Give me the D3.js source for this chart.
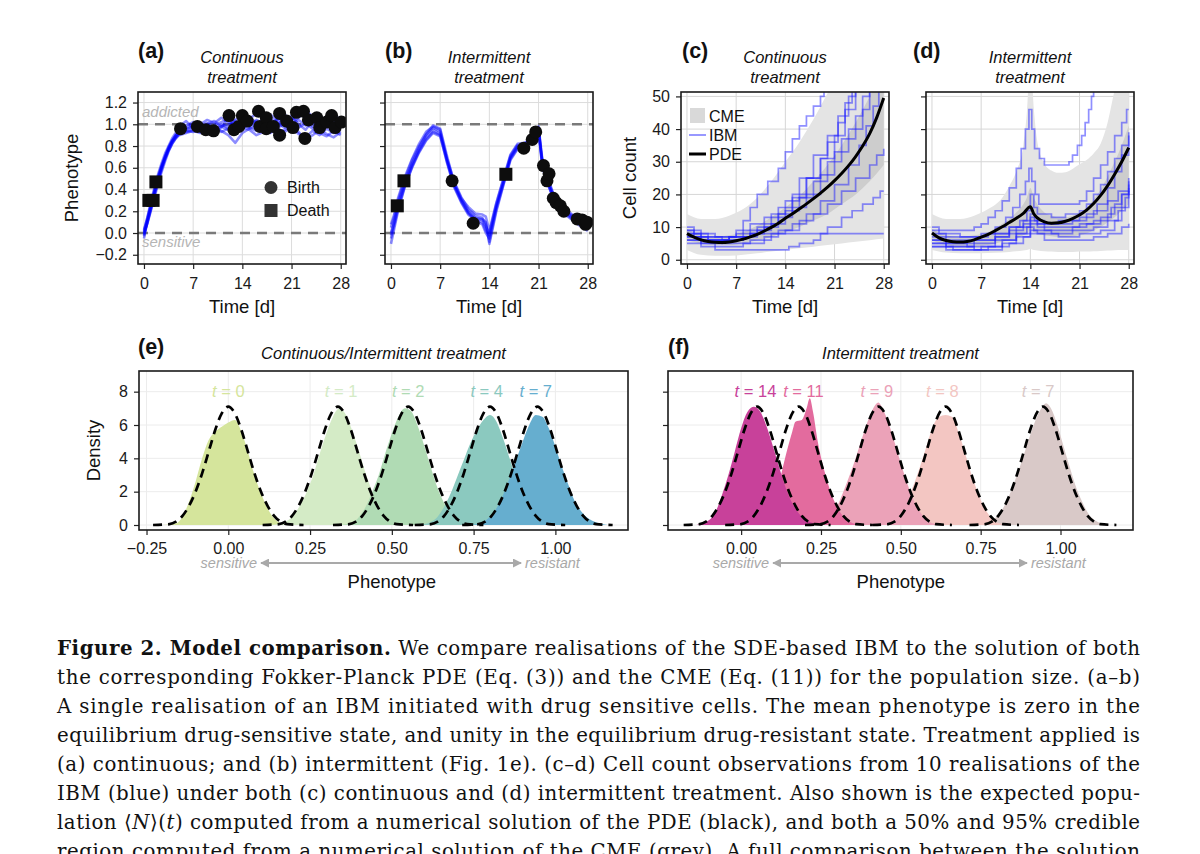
<!DOCTYPE html>
<html>
<head>
<meta charset="utf-8">
<script src="https://cdn.jsdelivr.net/npm/d3@7"></script>
<style>
  body { margin: 0; background: #fff; }
  svg text { font-family: "Liberation Sans", Arial, Helvetica, sans-serif; }
</style>
</head>
<body>
<svg id="figure" width="1200" height="854"></svg>
<script>
// ---------- tick values ----------
const timeTicks = [0, 7, 14, 21, 28];
const phenoTicks = [-0.2, 0, 0.2, 0.4, 0.6, 0.8, 1.0, 1.2];
const countTicks = [0, 10, 20, 30, 40, 50];
const densityTicks = [0, 2, 4, 6, 8];
const phenoTicksE = [-0.25, 0, 0.25, 0.5, 0.75, 1];
const phenoTicksF = [0, 0.25, 0.5, 0.75, 1];

// ---------- (a) continuous, single IBM realisation ----------
const timesA = [0, 0.5, 1, 1.5, 2, 2.5, 3, 3.5, 4, 4.5, 5, 6, 7, 8, 9, 10, 11, 12, 13, 14, 15, 16, 17, 18, 19, 20, 21, 22, 23, 24, 25, 26, 27, 28];
const trajA = [
  [-0.05, 0.11, 0.24, 0.37, 0.49, 0.60, 0.69, 0.77, 0.84, 0.89, 0.92, 0.95, 0.97, 0.93, 0.96, 0.99, 1.02, 1.05, 0.99, 1.03, 0.98, 1.04, 1.01, 0.97, 1.06, 1.02, 1.08, 1.00, 0.95, 1.03, 1.05, 0.99, 1.02, 1.01],
  [0.02, 0.15, 0.29, 0.42, 0.54, 0.64, 0.73, 0.80, 0.87, 0.92, 0.98, 1.03, 0.96, 0.98, 0.94, 0.92, 0.97, 1.06, 1.03, 0.98, 1.07, 1.01, 0.95, 1.02, 0.98, 1.09, 1.04, 1.10, 1.06, 0.98, 1.02, 1.07, 0.97, 1.04],
  [0.00, 0.09, 0.21, 0.33, 0.45, 0.56, 0.66, 0.75, 0.82, 0.87, 0.91, 0.93, 0.95, 0.99, 1.01, 0.97, 0.94, 0.90, 0.83, 0.92, 0.96, 0.99, 0.94, 0.92, 0.96, 0.93, 0.97, 0.91, 0.88, 0.94, 0.90, 0.96, 0.92, 0.95],
  [-0.03, 0.13, 0.26, 0.40, 0.52, 0.62, 0.71, 0.79, 0.85, 0.90, 0.93, 0.97, 1.00, 0.96, 0.93, 0.95, 1.00, 0.97, 1.04, 1.08, 1.02, 0.97, 1.05, 1.09, 1.03, 0.99, 1.04, 1.12, 1.08, 1.02, 0.97, 1.06, 1.10, 1.03],
  [0.01, 0.12, 0.25, 0.38, 0.50, 0.61, 0.70, 0.78, 0.84, 0.88, 0.91, 0.94, 0.93, 0.95, 0.97, 0.94, 0.98, 0.95, 0.92, 0.97, 0.95, 0.90, 0.93, 0.96, 0.91, 0.95, 0.99, 0.93, 0.86, 0.90, 0.95, 0.91, 0.88, 0.93],
  [-0.02, 0.10, 0.23, 0.36, 0.48, 0.59, 0.68, 0.76, 0.83, 0.88, 0.94, 0.99, 1.02, 1.00, 1.04, 1.01, 1.06, 1.02, 0.98, 1.01, 1.05, 1.10, 1.06, 1.00, 1.04, 1.08, 1.02, 1.06, 1.13, 1.07, 1.03, 1.00, 1.05, 1.00],
  [0.03, 0.14, 0.27, 0.39, 0.51, 0.61, 0.70, 0.78, 0.85, 0.90, 0.93, 0.96, 0.98, 0.97, 1.00, 1.03, 0.98, 1.00, 1.02, 0.96, 1.00, 1.03, 0.99, 1.05, 1.01, 0.97, 1.00, 1.04, 0.99, 1.06, 1.01, 1.03, 0.98, 1.02],
  [-0.01, 0.10, 0.22, 0.35, 0.47, 0.58, 0.68, 0.76, 0.82, 0.87, 0.90, 0.92, 0.94, 0.92, 0.95, 0.97, 0.93, 0.96, 0.99, 1.02, 0.97, 0.94, 0.98, 0.93, 0.97, 1.00, 0.94, 0.97, 1.01, 0.96, 0.92, 0.89, 0.94, 0.90]
];
const birthsA = [[5.2, 0.96], [7.6, 0.98], [8.8, 0.95], [9.9, 0.94], [12.1, 1.08], [12.8, 0.95], [13.5, 0.98], [14.0, 1.08], [14.7, 1.03],
  [16.3, 1.12], [16.5, 0.98], [17.4, 1.06], [17.4, 0.96], [18.4, 0.98], [19.3, 0.90], [19.3, 1.10], [20.3, 1.03], [21.2, 0.97],
  [21.7, 1.11], [22.7, 1.12], [22.9, 0.87], [23.4, 1.04], [24.6, 1.06], [25.0, 0.97], [26.0, 1.02], [26.7, 1.08], [27.2, 0.97], [28.1, 1.02]];
const deathsA = [[0.7, 0.30], [1.3, 0.30], [1.7, 0.47]];

// ---------- (b) intermittent, single IBM realisation ----------
const timesB = [0, 0.5, 1, 2, 3, 4, 5, 6, 7, 8, 9, 10, 11, 12, 13, 13.5, 14, 15, 16, 17, 18, 19, 20, 20.5, 21, 21.5, 22, 23, 24, 25, 26, 27, 28];
const trajB = [
  [-0.02, 0.12, 0.27, 0.47, 0.64, 0.78, 0.90, 0.97, 0.93, 0.66, 0.44, 0.30, 0.19, 0.12, 0.10, 0.02, -0.02, 0.25, 0.47, 0.70, 0.80, 0.80, 0.85, 0.90, 0.96, 0.68, 0.55, 0.36, 0.25, 0.19, 0.14, 0.10, 0.06],
  [-0.10, 0.05, 0.20, 0.43, 0.61, 0.76, 0.88, 0.95, 0.91, 0.68, 0.47, 0.33, 0.22, 0.16, 0.14, 0.08, -0.08, 0.22, 0.45, 0.68, 0.78, 0.82, 0.87, 0.92, 0.94, 0.66, 0.52, 0.33, 0.23, 0.17, 0.12, 0.08, 0.03],
  [0.05, 0.16, 0.30, 0.50, 0.67, 0.80, 0.91, 0.99, 0.96, 0.70, 0.46, 0.32, 0.24, 0.18, 0.17, 0.15, 0.02, 0.28, 0.50, 0.72, 0.82, 0.83, 0.86, 0.91, 0.98, 0.70, 0.57, 0.38, 0.27, 0.21, 0.16, 0.12, 0.08],
  [0.00, 0.10, 0.24, 0.45, 0.62, 0.75, 0.86, 0.93, 0.90, 0.64, 0.42, 0.28, 0.17, 0.11, 0.08, 0.00, -0.05, 0.24, 0.46, 0.69, 0.79, 0.79, 0.84, 0.89, 0.95, 0.64, 0.50, 0.34, 0.24, 0.18, 0.13, 0.09, 0.04],
  [0.08, 0.18, 0.32, 0.52, 0.68, 0.82, 0.93, 0.98, 0.95, 0.67, 0.45, 0.31, 0.20, 0.14, 0.12, 0.06, 0.00, 0.27, 0.49, 0.71, 0.81, 0.81, 0.86, 0.92, 0.97, 0.67, 0.54, 0.37, 0.26, 0.20, 0.15, 0.11, 0.07],
  [-0.05, 0.08, 0.22, 0.44, 0.60, 0.74, 0.85, 0.92, 0.89, 0.65, 0.43, 0.29, 0.18, 0.13, 0.13, 0.10, -0.10, 0.20, 0.44, 0.67, 0.77, 0.79, 0.84, 0.88, 0.93, 0.63, 0.51, 0.35, 0.22, 0.16, 0.11, 0.06, 0.02]
];
const birthsB = [[8.7, 0.48], [11.7, 0.09], [18.9, 0.78], [20.1, 0.86], [20.6, 0.93], [21.7, 0.62], [22.2, 0.48], [22.5, 0.545],
  [23.1, 0.32], [23.5, 0.28], [24.1, 0.25], [24.6, 0.20], [26.5, 0.13], [27.2, 0.12], [27.7, 0.08], [27.9, 0.10]];
const deathsB = [[0.9, 0.25], [1.85, 0.48], [16.35, 0.54]];

// ---------- (c) continuous, cell counts ----------
const pdeTimesC = [0, 1, 2, 3, 4, 5, 6, 7, 8, 9, 10, 11, 12, 13, 14, 15, 16, 17, 18, 19, 20, 21, 22, 23, 24, 25, 26, 27, 28];
const pdeC = [8.0, 6.9, 6.1, 5.6, 5.35, 5.3, 5.45, 5.8, 6.3, 7.0, 7.8, 8.8, 9.9, 11.2, 12.7, 14.1, 15.6, 17.1, 18.7, 20.4, 22.2, 24.2, 26.4, 28.8, 31.6, 34.8, 38.6, 43.5, 49.5];
const cmeTimesC = [0, 2, 4, 6, 8, 10, 12, 14, 16, 18, 20, 22, 24, 26, 28];
const cmeLo95C = [3, 1.5, 1.2, 1.2, 1.5, 2, 2.5, 3, 3.5, 4, 4.5, 5, 5.5, 6, 6.5];
const cmeHi95C = [14, 12.5, 12.5, 13.5, 15.5, 19, 24, 30, 36, 43, 51, 59, 68, 78, 90];
const cmeLo50C = [6, 5, 4.5, 4.5, 5, 6, 7, 8.5, 10, 12, 14, 17, 20, 24, 29];
const cmeHi50C = [9.5, 7.5, 7, 7.5, 8.5, 10.5, 13, 16, 19.5, 24, 29, 35, 42, 50, 59];
const ibmC = [
  [[0, 8], [1, 7], [3, 6], [6, 7], [9, 8], [28, 8]],
  [[0, 5], [2, 4], [4, 3], [14.5, 4], [16, 5], [18, 6], [19, 8], [20, 10], [22, 13], [23.5, 15], [25, 17], [26.5, 19], [27.5, 21], [28, 21]],
  [[0, 7], [2, 6], [5, 5], [9, 6], [12, 8], [14, 9], [16, 12], [18, 14], [20, 17], [22, 21], [24, 25], [26, 29], [27, 32], [28, 34]],
  [[0, 10], [1, 8], [3, 7], [7, 8], [8, 12], [9, 16], [10, 20], [11.5, 24], [13, 28], [14, 33], [15, 37], [16, 41], [17, 44], [18, 47], [19, 50], [19.5, 53]],
  [[0, 9], [2, 7], [5, 6], [8, 8], [10, 10], [12, 14], [14, 18], [16, 25], [18, 32], [20, 38], [21.5, 44], [23, 50], [24, 53]],
  [[0, 7], [3, 6], [6, 7], [9, 9], [11, 11], [13, 14], [15, 19], [17, 25], [19, 31], [21, 38], [22.5, 46], [24, 52]],
  [[0, 6], [2, 5], [5, 6], [8, 7], [10, 9], [12, 11], [14, 15], [16, 19], [18, 24], [20, 30], [22, 37], [24, 44], [25, 50], [26, 53]],
  [[0, 8], [2, 6], [6, 7], [9, 8], [11, 10], [13, 13], [15, 16], [17, 20], [19, 26], [21, 33], [23, 40], [25, 46], [26, 52]],
  [[0, 6], [2, 5], [4, 4], [8, 5], [11, 7], [13, 9], [15, 11], [17, 14], [19, 18], [21, 23], [23, 29], [24.5, 35], [25.5, 41], [26.5, 47], [27.3, 53]],
  [[0, 9], [1, 8], [4, 7], [7, 9], [9, 11], [11, 13], [13, 16], [15, 20], [17, 25], [19, 31], [20, 36], [21.5, 42], [22.5, 48], [23.5, 53]]
];

// ---------- (d) intermittent, cell counts ----------
const pdeTimesD = [0, 1, 2, 3, 4, 5, 6, 7, 8, 9, 10, 11, 12, 13, 14, 14.5, 15, 16, 17, 18, 19, 20, 21, 22, 23, 24, 25, 26, 27, 28];
const pdeD = [8.2, 6.7, 5.9, 5.5, 5.4, 5.6, 6.1, 6.9, 7.8, 8.9, 10.1, 11.4, 12.7, 14.2, 16.2, 14.0, 12.8, 11.6, 11.2, 11.3, 11.8, 12.6, 13.7, 15.2, 17.2, 19.7, 22.7, 26.2, 30.0, 34.3];
const cmeTimesD = [0, 2, 4, 6, 8, 10, 11, 12, 13, 13.5, 14, 14.5, 15, 16, 17, 18, 19, 20, 21, 22, 23, 24, 25, 26, 27, 28];
const cmeLo95D = [3, 2.2, 2, 2, 2.1, 2.2, 2.4, 2.6, 2.8, 3, 3.3, 3, 2.8, 2.6, 2.5, 2.4, 2.4, 2.4, 2.5, 2.5, 2.6, 2.7, 2.8, 2.9, 3, 3];
const cmeHi95D = [14, 12.5, 12.5, 13.5, 15.5, 19, 22.5, 27, 35, 45, 62, 46, 36, 29.5, 27.3, 26.6, 26.8, 27.8, 29.2, 30.5, 32.5, 35.5, 42, 52, 60, 68];
const cmeLo50D = [6, 4.5, 4, 4, 4.5, 5.5, 6, 6.5, 7.5, 8, 9, 8.5, 8, 7.5, 7.2, 7, 7, 7.2, 7.5, 8, 9, 10, 11.5, 13, 15, 17];
const cmeHi50D = [9.5, 7.5, 7, 7.5, 8.5, 11, 12.5, 14.5, 17, 19, 22, 19, 17, 14.5, 13.5, 13, 13, 13.5, 14.5, 16, 18.5, 21.5, 25.5, 30, 35, 41];
const ibmD = [
  [[0, 9], [3, 9], [6, 10], [7, 11], [8, 13], [9, 15], [10, 18], [11, 22], [12, 28], [12.7, 34], [13.3, 40], [13.8, 46], [14.2, 40], [14.6, 34], [15.3, 31], [16, 29], [19.5, 30], [20, 32], [20.7, 35], [21.3, 38], [21.8, 42], [22.3, 46], [22.7, 50], [23, 53]],
  [[0, 8], [2, 7], [4, 7], [7, 8], [9, 10], [10.5, 13], [11.5, 16], [12.5, 20], [13.3, 24], [13.8, 28], [14.2, 24], [14.7, 20], [15.2, 17], [21, 18], [22, 21], [23, 25], [24, 29], [25, 33], [26, 38], [27, 42], [27.7, 46], [28, 46]],
  [[0, 6], [2, 5], [6, 6], [9, 7], [11, 10], [12.5, 12], [13.5, 15], [14, 20], [14.5, 16], [15, 14], [17, 13], [19, 14], [21, 15], [22, 17], [23, 20], [24, 23], [25, 27], [26, 31], [27, 35], [28, 39]],
  [[0, 5], [2, 4], [6, 5], [9, 7], [11, 9], [13, 11], [14, 14], [14.6, 12], [16, 11], [20, 12], [22, 14], [23.5, 17], [25, 22], [26, 27], [27, 32], [28, 38]],
  [[0, 4], [3, 3], [8, 4], [10, 6], [12, 8], [14, 12], [15, 10], [18, 10], [21, 11], [23, 12], [25, 14], [26, 17], [27, 20], [28, 24]],
  [[0, 6], [2, 5], [5, 4], [9, 6], [12, 8], [13.5, 10], [14.5, 9], [17, 8], [20, 9], [23, 10], [25, 12], [26.5, 15], [27.5, 19], [28, 22]],
  [[0, 5], [2, 4], [6, 3], [10, 5], [12, 7], [14, 9], [15, 8], [18, 7], [21, 8], [24, 9], [26, 12], [27, 16], [28, 21]],
  [[0, 10], [1, 8], [4, 7], [8, 8], [11, 10], [13, 12], [14, 13], [15, 11], [18, 12], [21, 13], [23, 15], [25, 18], [26.5, 21], [28, 25]],
  [[0, 4], [2, 3], [7, 4], [11, 5], [13, 7], [14, 8], [16, 6], [20, 6], [23, 7], [25, 8], [27, 10], [28, 11]],
  [[0, 7], [2, 6], [6, 6], [9, 8], [12, 10], [14, 11], [16, 9], [20, 10], [22, 11], [24, 13], [25.5, 16], [27, 20], [28, 23]]
];

// ---------- (e) / (f) phenotype densities ----------
const labelsE = ['0', '1', '2', '4', '7'];
const peaksE = [0, 0.345, 0.55, 0.79, 0.94];
const coloursE = ['#d5e59c', '#d4ebc6', '#b0dbb4', '#8bc9bf', '#66aecf'];
const ibmDensE = [
  [[-0.2, 0], [-0.16, 0.1], [-0.14, 0.5], [-0.12, 1.4], [-0.1, 2.6], [-0.08, 4.0], [-0.06, 5.1], [-0.04, 5.6], [-0.02, 5.9], [0, 6.15], [0.02, 6.3], [0.04, 5.6], [0.06, 4.4], [0.08, 3.0], [0.1, 1.9], [0.12, 1.0], [0.14, 0.4], [0.16, 0.1], [0.2, 0]],
  [[0.12, 0], [0.16, 0.1], [0.2, 0.6], [0.22, 1.2], [0.24, 2.0], [0.26, 3.0], [0.28, 4.3], [0.3, 5.5], [0.32, 6.5], [0.34, 7.0], [0.36, 6.6], [0.38, 5.6], [0.4, 4.4], [0.42, 3.1], [0.44, 2.0], [0.46, 1.1], [0.48, 0.5], [0.5, 0.15], [0.54, 0]],
  [[0.34, 0], [0.38, 0.15], [0.4, 0.5], [0.42, 1.1], [0.44, 2.0], [0.46, 3.0], [0.48, 4.3], [0.5, 5.5], [0.52, 6.5], [0.54, 7.0], [0.56, 6.8], [0.58, 5.9], [0.6, 4.7], [0.62, 3.4], [0.64, 2.2], [0.66, 1.3], [0.68, 0.6], [0.7, 0.2], [0.74, 0]],
  [[0.58, 0], [0.62, 0.2], [0.64, 0.5], [0.66, 1.1], [0.68, 1.9], [0.7, 2.9], [0.72, 3.9], [0.74, 4.9], [0.76, 5.7], [0.78, 6.3], [0.8, 6.6], [0.82, 6.2], [0.84, 5.2], [0.86, 4.0], [0.88, 2.8], [0.9, 1.8], [0.92, 1.0], [0.94, 0.4], [0.98, 0]],
  [[0.74, 0], [0.78, 0.2], [0.8, 0.5], [0.82, 1.0], [0.84, 1.8], [0.86, 2.8], [0.88, 3.9], [0.9, 5.0], [0.92, 6.0], [0.94, 6.6], [0.96, 6.5], [0.98, 5.8], [1.0, 4.7], [1.02, 3.5], [1.04, 2.4], [1.06, 1.4], [1.08, 0.8], [1.1, 0.4], [1.12, 0.2], [1.16, 0]]
];
// PDE densities: same profile
const pdeDensity = [0, 0.05, 0.2, 0.55, 1.15, 2.0, 3.1, 4.4, 5.7, 6.7, 7.1, 6.7, 5.7, 4.4, 3.1, 2.0, 1.15, 0.55, 0.2, 0.05, 0];
const pdePhenoE = [
  [-0.23, -0.18, -0.16, -0.14, -0.12, -0.10, -0.08, -0.06, -0.04, -0.02, 0.00, 0.02, 0.04, 0.06, 0.08, 0.10, 0.12, 0.14, 0.16, 0.18, 0.23],
  [0.105, 0.155, 0.175, 0.195, 0.215, 0.235, 0.255, 0.275, 0.295, 0.315, 0.335, 0.355, 0.375, 0.395, 0.415, 0.435, 0.455, 0.475, 0.495, 0.515, 0.565],
  [0.32, 0.37, 0.39, 0.41, 0.43, 0.45, 0.47, 0.49, 0.51, 0.53, 0.55, 0.57, 0.59, 0.61, 0.63, 0.65, 0.67, 0.69, 0.71, 0.73, 0.78],
  [0.57, 0.62, 0.64, 0.66, 0.68, 0.70, 0.72, 0.74, 0.76, 0.78, 0.80, 0.82, 0.84, 0.86, 0.88, 0.90, 0.92, 0.94, 0.96, 0.98, 1.03],
  [0.715, 0.765, 0.785, 0.805, 0.825, 0.845, 0.865, 0.885, 0.905, 0.925, 0.945, 0.965, 0.985, 1.005, 1.025, 1.045, 1.065, 1.085, 1.105, 1.125, 1.175]
];

const labelsF = ['14', '11', '9', '8', '7'];
const peaksF = [0.045, 0.195, 0.425, 0.63, 0.93];
const coloursF = ['#c8419a', '#e36b9e', '#eba2b8', '#f3c6c2', '#d9c9c8'];
const ibmDensF = [
  [[-0.14, 0], [-0.1, 0.3], [-0.08, 0.8], [-0.06, 1.8], [-0.04, 3.0], [-0.02, 4.4], [0, 5.8], [0.02, 6.8], [0.04, 7.1], [0.06, 6.8], [0.08, 5.9], [0.1, 4.7], [0.12, 3.4], [0.14, 2.2], [0.16, 1.3], [0.18, 0.7], [0.2, 0.35], [0.22, 0.15], [0.26, 0]],
  [[0.04, 0], [0.08, 0.4], [0.1, 1.2], [0.12, 2.6], [0.14, 4.2], [0.16, 5.6], [0.17, 6.2], [0.19, 6.3], [0.205, 7.0], [0.215, 7.6], [0.225, 6.8], [0.24, 5.0], [0.26, 3.3], [0.28, 2.0], [0.3, 1.1], [0.32, 0.5], [0.34, 0.2], [0.38, 0]],
  [[0.22, 0], [0.26, 0.2], [0.28, 0.5], [0.3, 1.1], [0.32, 2.0], [0.34, 3.0], [0.36, 4.1], [0.38, 5.3], [0.4, 6.4], [0.42, 7.2], [0.43, 7.35], [0.44, 7.1], [0.46, 6.2], [0.48, 5.0], [0.5, 3.7], [0.52, 2.5], [0.54, 1.5], [0.56, 0.8], [0.58, 0.35], [0.6, 0.1], [0.64, 0]],
  [[0.44, 0], [0.48, 0.3], [0.5, 0.8], [0.52, 1.5], [0.54, 2.4], [0.56, 3.5], [0.58, 4.7], [0.6, 5.9], [0.62, 6.5], [0.64, 6.6], [0.66, 6.5], [0.68, 5.6], [0.7, 4.4], [0.72, 3.1], [0.74, 2.0], [0.76, 1.1], [0.78, 0.5], [0.8, 0.15], [0.84, 0]],
  [[0.74, 0], [0.78, 0.2], [0.8, 0.5], [0.82, 1.0], [0.84, 1.8], [0.86, 2.8], [0.88, 3.9], [0.9, 5.1], [0.92, 6.2], [0.94, 7.0], [0.955, 7.3], [0.97, 7.0], [0.99, 6.0], [1.01, 4.7], [1.03, 3.4], [1.05, 2.2], [1.07, 1.3], [1.09, 0.6], [1.11, 0.25], [1.15, 0]]
];
const pdePhenoF = [
  [-0.18, -0.13, -0.11, -0.09, -0.07, -0.05, -0.03, -0.01, 0.01, 0.03, 0.05, 0.07, 0.09, 0.11, 0.13, 0.15, 0.17, 0.19, 0.21, 0.23, 0.28],
  [-0.05, 0.00, 0.02, 0.04, 0.06, 0.08, 0.10, 0.12, 0.14, 0.16, 0.18, 0.20, 0.22, 0.24, 0.26, 0.28, 0.30, 0.32, 0.34, 0.36, 0.41],
  [0.20, 0.25, 0.27, 0.29, 0.31, 0.33, 0.35, 0.37, 0.39, 0.41, 0.43, 0.45, 0.47, 0.49, 0.51, 0.53, 0.55, 0.57, 0.59, 0.61, 0.66],
  [0.41, 0.46, 0.48, 0.50, 0.52, 0.54, 0.56, 0.58, 0.60, 0.62, 0.64, 0.66, 0.68, 0.70, 0.72, 0.74, 0.76, 0.78, 0.80, 0.82, 0.87],
  [0.715, 0.765, 0.785, 0.805, 0.825, 0.845, 0.865, 0.885, 0.905, 0.925, 0.945, 0.965, 0.985, 1.005, 1.025, 1.045, 1.065, 1.085, 1.105, 1.125, 1.175]
];

// ---------- caption ----------
const captionLines = [
  [['Figure 2.  Model comparison.', 'b'], [' We compare realisations of the SDE-based IBM to the solution of both', '']],
  [['the corresponding Fokker-Planck PDE (Eq. (3)) and the CME (Eq. (11)) for the population size. (a–b)', '']],
  [['A single realisation of an IBM initiated with drug sensitive cells.  The mean phenotype is zero in the', '']],
  [['equilibrium drug-sensitive state, and unity in the equilibrium drug-resistant state. Treatment applied is', '']],
  [['(a) continuous; and (b) intermittent (Fig. 1e). (c–d) Cell count observations from 10 realisations of the', '']],
  [['IBM (blue) under both (c) continuous and (d) intermittent treatment.  Also shown is the expected popu-', '']],
  [['lation ⟨', ''], ['N', 'i'], ['⟩(', ''], ['t', 'i'], [') computed from a numerical solution of the PDE (black), and both a 50% and 95% credible', '']],
  [['region computed from a numerical solution of the CME (grey).  A full comparison between the solution', '']]
];

// ================= drawing =================
const svg = d3.select('#figure');
const defs = svg.append('defs');

defs.append('marker')
  .attr('id', 'arrowhead')
  .attr('viewBox', '0 0 10 10')
  .attr('refX', 9)
  .attr('refY', 5)
  .attr('markerWidth', 4.5)
  .attr('markerHeight', 4.5)
  .attr('orient', 'auto-start-reverse')
  .append('path')
  .attr('d', 'M0,0L10,5L0,10z')
  .style('fill', '#a9a9a9');

const boxA = { left: 138, top: 92, right: 346, bottom: 264 };
const boxB = { left: 385, top: 92, right: 593, bottom: 264 };
const boxC = { left: 681, top: 92, right: 889, bottom: 264 };
const boxD = { left: 926, top: 92, right: 1134, bottom: 264 };
const boxE = { left: 139, top: 371, right: 628, bottom: 530 };
const boxF = { left: 668, top: 371, right: 1133, bottom: 530 };

const timeDomain = [-0.85, 28.75];

function makePanel(name, box, x, y, xTicks, yTicks, gridColour) {
  const g = svg.append('g').attr('class', name);

  defs.append('clipPath')
    .attr('id', `clip-${name}`)
    .append('rect')
    .attr('x', box.left)
    .attr('y', box.top)
    .attr('width', box.right - box.left)
    .attr('height', box.bottom - box.top);

  const grid = g.append('g')
    .style('stroke', gridColour)
    .style('stroke-width', 1);

  grid.selectAll('.vgrid')
    .data(xTicks)
    .join('line')
    .attr('class', 'vgrid')
    .attr('x1', (d) => x(d))
    .attr('x2', (d) => x(d))
    .attr('y1', box.top)
    .attr('y2', box.bottom);

  grid.selectAll('.hgrid')
    .data(yTicks)
    .join('line')
    .attr('class', 'hgrid')
    .attr('x1', box.left)
    .attr('x2', box.right)
    .attr('y1', (d) => y(d))
    .attr('y2', (d) => y(d));

  const plot = g.append('g').attr('clip-path', `url(#clip-${name})`);
  return { g, plot };
}

function styleAxis(sel) {
  sel.select('.domain').remove();
  sel.selectAll('.tick line')
    .style('stroke', '#222')
    .style('stroke-width', 1.2);
  sel.selectAll('.tick text')
    .style('font-size', '16px')
    .style('fill', '#1a1a1a')
    .style('font-family', '"Liberation Sans", Arial, sans-serif');
}

function finishPanel(g, box, x, y, xTicks, yTicks, xFormat, yFormat, padX) {
  const xAxis = d3.axisBottom(x)
    .tickValues(xTicks)
    .tickFormat(xFormat)
    .tickSize(5)
    .tickSizeOuter(0)
    .tickPadding(padX);

  g.append('g')
    .attr('transform', `translate(0,${box.bottom})`)
    .call(xAxis)
    .call(styleAxis);

  const yAxis = d3.axisLeft(y)
    .tickValues(yTicks)
    .tickFormat(yFormat)
    .tickSize(5)
    .tickSizeOuter(0)
    .tickPadding(6);

  g.append('g')
    .attr('transform', `translate(${box.left},0)`)
    .call(yAxis)
    .call(styleAxis);

  g.append('rect')
    .attr('x', box.left)
    .attr('y', box.top)
    .attr('width', box.right - box.left)
    .attr('height', box.bottom - box.top)
    .style('fill', 'none')
    .style('stroke', '#1a1a1a')
    .style('stroke-width', 1.6);
}

function panelTitle(letter, lx, cx, lines, baseline) {
  svg.append('text')
    .attr('x', lx)
    .attr('y', baseline - 2)
    .style('font-size', '21.5px')
    .style('font-weight', 'bold')
    .style('fill', '#111')
    .text(letter);

  lines.forEach((line, i) => {
    svg.append('text')
      .attr('x', cx)
      .attr('y', baseline + i * 20 + 3)
      .style('text-anchor', 'middle')
      .style('font-size', '16.5px')
      .style('font-style', 'italic')
      .style('fill', '#111')
      .text(line);
  });
}

function axisTitle(text, x, y, rotate) {
  svg.append('text')
    .attr('transform', `translate(${x},${y})${rotate ? ' rotate(-90)' : ''}`)
    .style('text-anchor', 'middle')
    .style('font-size', '18.5px')
    .style('fill', '#111')
    .text(text);
}

const fmt1 = d3.format('.1f');
const fmt2 = d3.format('.2f');
const fmtInt = d3.format('d');
const noLabel = () => '';

// ---------- (a) and (b) ----------
const yPheno = d3.scaleLinear().domain([-0.285, 1.297]).range([boxA.bottom, boxA.top]);

function phenotypePanel(name, box, times, traj, births, deaths, showY) {
  const x = d3.scaleLinear().domain(timeDomain).range([box.left, box.right]);
  const { g, plot } = makePanel(name, box, x, yPheno, timeTicks, phenoTicks, '#dcdcdc');

  plot.selectAll('.refline')
    .data([0, 1])
    .join('line')
    .attr('class', 'refline')
    .attr('x1', box.left)
    .attr('x2', box.right)
    .attr('y1', (d) => yPheno(d))
    .attr('y2', (d) => yPheno(d))
    .style('stroke', '#7a7a7a')
    .style('stroke-width', 2.4)
    .style('stroke-dasharray', '10,7');

  if (showY) {
    g.append('text')
      .attr('x', box.left + 4)
      .attr('y', yPheno(1) - 7)
      .style('font-size', '15px')
      .style('font-style', 'italic')
      .style('fill', '#b5b5b5')
      .text('addicted');
    g.append('text')
      .attr('x', box.left + 4)
      .attr('y', yPheno(0) + 14)
      .style('font-size', '15px')
      .style('font-style', 'italic')
      .style('fill', '#b5b5b5')
      .text('sensitive');
  }

  const line = d3.line()
    .x((d, i) => x(times[i]))
    .y((d) => yPheno(d));

  plot.selectAll('.traj')
    .data(traj)
    .join('path')
    .attr('class', 'traj')
    .attr('d', (d) => line(d))
    .style('fill', 'none')
    .style('stroke', '#0000ff')
    .style('stroke-opacity', 0.45)
    .style('stroke-width', 2.6)
    .style('stroke-linejoin', 'round');

  plot.selectAll('.birth')
    .data(births)
    .join('circle')
    .attr('class', 'birth')
    .attr('cx', (d) => x(d[0]))
    .attr('cy', (d) => yPheno(d[1]))
    .attr('r', 6.5)
    .style('fill', '#0d0d0d');

  plot.selectAll('.death')
    .data(deaths)
    .join('rect')
    .attr('class', 'death')
    .attr('x', (d) => x(d[0]) - 6.5)
    .attr('y', (d) => yPheno(d[1]) - 6.5)
    .attr('width', 13)
    .attr('height', 13)
    .style('fill', '#0d0d0d');

  finishPanel(g, box, x, yPheno, timeTicks, phenoTicks, fmtInt, showY ? fmt1 : noLabel, 9);
  axisTitle('Time [d]', (box.left + box.right) / 2, 313, false);
  return g;
}

const gA = phenotypePanel('panelA', boxA, timesA, trajA, birthsA, deathsA, true);
phenotypePanel('panelB', boxB, timesB, trajB, birthsB, deathsB, false);

// legend (a)
gA.append('circle').attr('cx', 271).attr('cy', 187.5).attr('r', 6.5).style('fill', '#333');
gA.append('rect').attr('x', 264.5).attr('y', 204).attr('width', 13).attr('height', 13).style('fill', '#333');
gA.append('text').attr('x', 287).attr('y', 193).style('font-size', '16px').style('fill', '#111').text('Birth');
gA.append('text').attr('x', 287).attr('y', 216).style('font-size', '16px').style('fill', '#111').text('Death');

axisTitle('Phenotype', 77.5, (boxA.top + boxA.bottom) / 2, true);
panelTitle('(a)', 138, (boxA.left + boxA.right) / 2, ['Continuous', 'treatment'], 60);
panelTitle('(b)', 385, (boxB.left + boxB.right) / 2, ['Intermittent', 'treatment'], 60);

// ---------- (c) and (d) ----------
const yCount = d3.scaleLinear().domain([-1.3, 51.35]).range([boxC.bottom, boxC.top]);

function countPanel(name, box, pdeTimes, pde, cmeTimes, lo95, hi95, lo50, hi50, ibm, showY) {
  const x = d3.scaleLinear().domain(timeDomain).range([box.left, box.right]);
  const { g, plot } = makePanel(name, box, x, yCount, timeTicks, countTicks, '#d6d6d6');

  const band = d3.area()
    .x((d) => x(d[0]))
    .y0((d) => yCount(d[1]))
    .y1((d) => yCount(d[2]))
    .curve(d3.curveMonotoneX);

  plot.append('path')
    .attr('d', band(d3.zip(cmeTimes, lo95, hi95)))
    .style('fill', '#e4e4e4');

  plot.append('path')
    .attr('d', band(d3.zip(cmeTimes, lo50, hi50)))
    .style('fill', '#cdcdcd');

  const step = d3.line()
    .x((d) => x(d[0]))
    .y((d) => yCount(d[1]))
    .curve(d3.curveStepAfter);

  plot.selectAll('.ibm')
    .data(ibm)
    .join('path')
    .attr('class', 'ibm')
    .attr('d', (d) => step(d))
    .style('fill', 'none')
    .style('stroke', '#2020ff')
    .style('stroke-opacity', 0.5)
    .style('stroke-width', 1.7);

  const pdeLine = d3.line()
    .x((d) => x(d[0]))
    .y((d) => yCount(d[1]))
    .curve(d3.curveMonotoneX);

  plot.append('path')
    .attr('d', pdeLine(d3.zip(pdeTimes, pde)))
    .style('fill', 'none')
    .style('stroke', '#000')
    .style('stroke-width', 3);

  finishPanel(g, box, x, yCount, timeTicks, countTicks, fmtInt, showY ? fmtInt : noLabel, 9);
  axisTitle('Time [d]', (box.left + box.right) / 2, 313, false);
  return g;
}

const gC = countPanel('panelC', boxC, pdeTimesC, pdeC, cmeTimesC, cmeLo95C, cmeHi95C, cmeLo50C, cmeHi50C, ibmC, true);
countPanel('panelD', boxD, pdeTimesD, pdeD, cmeTimesD, cmeLo95D, cmeHi95D, cmeLo50D, cmeHi50D, ibmD, false);

// legend (c)
gC.append('rect').attr('x', 690).attr('y', 108).attr('width', 15).attr('height', 15).style('fill', '#d9d9d9');
gC.append('line').attr('x1', 689).attr('x2', 706).attr('y1', 135).attr('y2', 135)
  .style('stroke', '#2020ff').style('stroke-opacity', 0.55).style('stroke-width', 1.7);
gC.append('line').attr('x1', 689).attr('x2', 706).attr('y1', 154).attr('y2', 154)
  .style('stroke', '#000').style('stroke-width', 3);
[['CME', 122], ['IBM', 140.5], ['PDE', 159.5]].forEach(([t, yy]) => {
  gC.append('text').attr('x', 709).attr('y', yy).style('font-size', '16px').style('fill', '#111').text(t);
});

axisTitle('Cell count', 636, (boxC.top + boxC.bottom) / 2, true);
panelTitle('(c)', 682, (boxC.left + boxC.right) / 2, ['Continuous', 'treatment'], 60);
panelTitle('(d)', 913, (boxD.left + boxD.right) / 2, ['Intermittent', 'treatment'], 60);

// ---------- (e) and (f) ----------
const yDens = d3.scaleLinear().domain([-0.3, 9.24]).range([boxE.bottom, boxE.top]);

function densityPanel(name, box, xDomain, xTicks, fills, pdeX, colours, labels, peaks, showY, drawOrder) {
  const x = d3.scaleLinear().domain(xDomain).range([box.left, box.right]);
  const { g, plot } = makePanel(name, box, x, yDens, xTicks, densityTicks, '#ececec');

  const area = d3.area()
    .x((d) => x(d[0]))
    .y0(yDens(0))
    .y1((d) => yDens(d[1]))
    .curve(d3.curveMonotoneX);

  drawOrder.forEach((i) => {
    plot.append('path')
      .attr('d', area(fills[i]))
      .style('fill', colours[i]);
  });

  const dashed = d3.line()
    .x((d) => x(d[0]))
    .y((d) => yDens(d[1]))
    .curve(d3.curveMonotoneX);

  plot.selectAll('.pde')
    .data(pdeX)
    .join('path')
    .attr('class', 'pde')
    .attr('d', (d) => dashed(d3.zip(d, pdeDensity)))
    .style('fill', 'none')
    .style('stroke', '#000')
    .style('stroke-width', 2.7)
    .style('stroke-dasharray', '9,6');

  labels.forEach((lab, i) => {
    const t = g.append('text')
      .attr('x', x(peaks[i]))
      .attr('y', 397)
      .style('text-anchor', 'middle')
      .style('font-size', '16.5px')
      .style('fill', colours[i]);
    t.append('tspan').style('font-style', 'italic').text('t');
    t.append('tspan').text(` = ${lab}`);
  });

  finishPanel(g, box, x, yDens, xTicks, densityTicks, fmt2, showY ? fmtInt : noLabel, 8);

  // sensitive <-> resistant arrow
  const arrowY = 563;
  g.append('line')
    .attr('x1', x(0.1))
    .attr('x2', x(0.895))
    .attr('y1', arrowY)
    .attr('y2', arrowY)
    .attr('marker-start', 'url(#arrowhead)')
    .attr('marker-end', 'url(#arrowhead)')
    .style('stroke', '#a9a9a9')
    .style('stroke-width', 2);
  g.append('text')
    .attr('x', x(0.1) - 4)
    .attr('y', arrowY + 5)
    .style('text-anchor', 'end')
    .style('font-size', '14.5px')
    .style('font-style', 'italic')
    .style('fill', '#a9a9a9')
    .text('sensitive');
  g.append('text')
    .attr('x', x(0.895) + 4)
    .attr('y', arrowY + 5)
    .style('font-size', '14.5px')
    .style('font-style', 'italic')
    .style('fill', '#a9a9a9')
    .text('resistant');

  axisTitle('Phenotype', x(0.5), 588, false);
  return g;
}

densityPanel('panelE', boxE, [-0.273, 1.222], phenoTicksE, ibmDensE, pdePhenoE, coloursE, labelsE, peaksE, true, [0, 1, 2, 3, 4]);
densityPanel('panelF', boxF, [-0.229, 1.227], phenoTicksF, ibmDensF, pdePhenoF, coloursF, labelsF, peaksF, false, [4, 3, 2, 1, 0]);

axisTitle('Density', 99.5, (boxE.top + boxE.bottom) / 2, true);
panelTitle('(e)', 138, (boxE.left + boxE.right) / 2, ['Continuous/Intermittent treatment'], 356);
panelTitle('(f)', 668, (boxF.left + boxF.right) / 2, ['Intermittent treatment'], 356);

// ---------- caption ----------
const caption = svg.append('g').attr('class', 'caption');
captionLines.forEach((segs, i) => {
  const t = caption.append('text')
    .attr('x', 57)
    .attr('y', 655 + i * 29)
    .attr('textLength', 1083)
    .attr('lengthAdjust', 'spacing')
    .style('font-family', '"DejaVu Serif", "Liberation Serif", serif')
    .style('font-size', '19.8px')
    .style('fill', '#111');
  segs.forEach(([s, f]) => {
    t.append('tspan')
      .style('font-weight', f === 'b' ? 'bold' : null)
      .style('font-style', f === 'i' ? 'italic' : null)
      .text(s);
  });
});
</script>
</body>
</html>
